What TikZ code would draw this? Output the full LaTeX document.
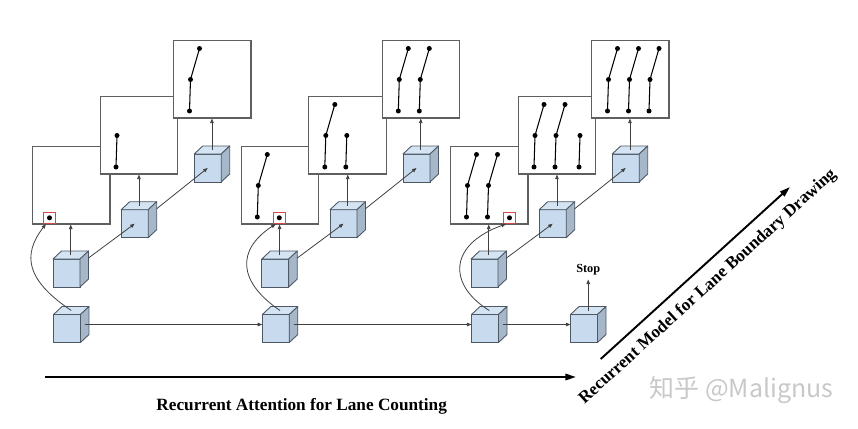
\documentclass[tikz,border=0pt]{standalone}
\usepackage{fontspec}
\setmainfont{Liberation Serif}
\newfontfamily\cjkfont{Noto Sans CJK SC}
\usetikzlibrary{positioning,calc,arrows.meta}
\definecolor{cube-front}{RGB}{199,218,238}
\definecolor{cube-top}{RGB}{213,228,243}
\definecolor{cube-side}{RGB}{166,183,202}
\definecolor{cube-edge}{RGB}{78,88,100}
\definecolor{panel-gray}{RGB}{95,95,95}
\definecolor{att-red}{RGB}{214,72,72}
\definecolor{mark-gray}{RGB}{200,200,200}

\tikzset{
	panel/.style={draw=panel-gray, fill=white, line width=0.6pt, minimum width=1.55cm, minimum height=1.55cm, inner sep=0pt, anchor=north west},
	cubefront/.style={draw=cube-edge, fill=cube-front, line width=0.5pt, minimum width=0.54cm, minimum height=0.56cm, inner sep=0pt, outer sep=0pt},
	cubeline/.style={draw=cube-edge, line width=0.5pt, line join=round},
	conn/.style={draw=black!75, line width=0.45pt, -{Triangle[length=2.6pt,width=2pt]}},
	lane/.style={line width=0.6pt},
	attbox/.style={draw=att-red, line width=0.5pt, minimum width=0.25cm, minimum height=0.23cm, inner sep=0pt},
	bigarrow/.style={line width=1.1pt, -{Triangle[length=6pt,width=3.6pt]}},
	title/.style={font=\fontsize{9.8}{11}\selectfont\bfseries}
}

% cube: name, centre of the front face
\newcommand{\blockcube}[2]{%
	\node[cubefront] (#1) at (#2) {};
	\filldraw[cubeline, fill=cube-top] (#1.north west) -- ++(8.5,-8) -- ++(27,0) -- (#1.north east) -- cycle;
	\filldraw[cubeline, fill=cube-side] (#1.north east) -- ++(8.5,-8) -- ++(0,28) -- (#1.south east) -- cycle;
	\coordinate (#1-t) at ($(#1.north)+(4.25,-4)$);
	\coordinate (#1-r) at ($(#1.east)+(4.25,-4)$);
	\coordinate (#1-e) at ($(#1.north east)+(8.5,-1)$);
}
% lanes in a panel: x offset of the lowest point
\newcommand{\fulllane}[1]{%
	\draw[lane] (#1+10,8.5) -- (#1+1,39.5) -- (#1,71);
	\fill (#1+10,8.5) circle[radius=0.05cm] (#1+1,39.5) circle[radius=0.05cm] (#1,71) circle[radius=0.05cm];
}
\newcommand{\shortlane}[1]{%
	\draw[lane] (#1+1,39.5) -- (#1,71);
	\fill (#1+1,39.5) circle[radius=0.05cm] (#1,71) circle[radius=0.05cm];
}

\begin{document}
\begin{tikzpicture}[x=0.02cm, y=-0.02cm]
	\useasboundingbox (0,0) rectangle (858,429);
	
	% three steps of lane counting
	\foreach \g/\ox in {a/0,b/208.8,c/418} {
		\node[panel] (p\g1) at (32+\ox,146) {};
		\node[panel] (p\g2) at (99.5+\ox,96) {};
		\node[panel] (p\g3) at (173+\ox,40) {};
		
		\blockcube{l\g1}{66.5+\ox,273}
		\blockcube{l\g2}{134.7+\ox,223.7}
		\blockcube{l\g3}{207.7+\ox,168}
		\blockcube{c\g}{67+\ox,328.5}
		
		\draw[conn] (l\g1-t) -- (l\g1-t |- p\g1.south);
		\draw[conn] (l\g2-t) -- (l\g2-t |- p\g2.south);
		\draw[conn] (l\g3-t) -- (l\g3-t |- p\g3.south);
		\draw[conn] (l\g1-e) -- (l\g2.center);
		\draw[conn] (l\g2-e) -- (l\g3.center);
	}
	\blockcube{cs}{584,328.5}
	
	% lanes, first step
	\begin{scope}[shift={(pa1.north west)}]
		\node[attbox] (att-a) at (17.5,71.8) {};
		\fill (att-a.center) circle[radius=0.05cm];
	\end{scope}
	\begin{scope}[shift={(pa2.north west)}]
		\shortlane{16.5}
	\end{scope}
	\begin{scope}[shift={(pa3.north west)}]
		\fulllane{16.5}
	\end{scope}
	
	% lanes, second step
	\begin{scope}[shift={(pb1.north west)}]
		\fulllane{16.5}
		\node[attbox] (att-b) at (38.5,71.8) {};
		\fill (att-b.center) circle[radius=0.05cm];
	\end{scope}
	\begin{scope}[shift={(pb2.north west)}]
		\fulllane{16.5}
		\shortlane{37.5}
	\end{scope}
	\begin{scope}[shift={(pb3.north west)}]
		\fulllane{16.5}
		\fulllane{37.5}
	\end{scope}
	
	% lanes, third step
	\begin{scope}[shift={(pc1.north west)}]
		\fulllane{16.5}
		\fulllane{37.5}
		\node[attbox] (att-c) at (59.5,71.8) {};
		\fill (att-c.center) circle[radius=0.05cm];
	\end{scope}
	\begin{scope}[shift={(pc2.north west)}]
		\fulllane{16.5}
		\fulllane{37.5}
		\shortlane{61.5}
	\end{scope}
	\begin{scope}[shift={(pc3.north west)}]
		\fulllane{16.5}
		\fulllane{37.5}
		\fulllane{58}
	\end{scope}
	
	% attention chain
	\draw[conn] (ca-t) .. controls (26,280) and (22,255) .. (att-a.240);
	\draw[conn] (cb-t) .. controls (238,282) and (236,250) .. (att-b.240);
	\draw[conn] (cc-t) .. controls (448,285) and (448,245) .. (att-c.240);
	\draw[conn] (ca-r) -- (ca-r -| cb.west);
	\draw[conn] (cb-r) -- (cb-r -| cc.west);
	\draw[conn] (cc-r) -- (cc-r -| cs.west);
	\draw[conn] (cs-t) -- ++(0,-31) node[above, inner sep=2pt, font=\fontsize{7}{8}\selectfont\bfseries] (stop) {Stop};
	
	% axes
	\coordinate (ac-start) at (45,377);
	\coordinate (ac-end) at (576,377);
	\draw[bigarrow] (ac-start) -- (ac-end);
	\node[title, anchor=base] (ac-label) at (301.7,410) {Recurrent Attention for Lane Counting};
	\coordinate (rm-start) at (600.7,359);
	\coordinate (rm-end) at (790,187);
	\draw[bigarrow] (rm-start) -- (rm-end) node[midway, sloped, below=5.5pt, inner sep=0pt, title] (rm-label) {Recurrent Model for Lane Boundary Drawing};
	
	\node[font=\cjkfont\fontsize{14.2}{16}\selectfont, text=mark-gray] (mark) at (741.5,390) {知乎 @Malignus};
\end{tikzpicture}
\end{document}
